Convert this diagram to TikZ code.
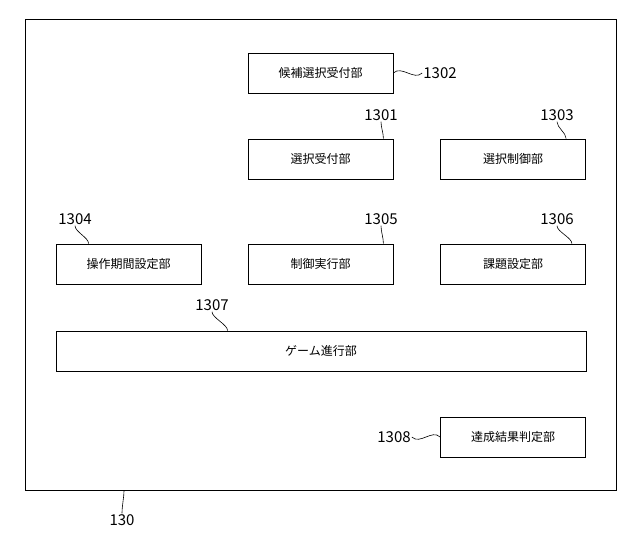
\documentclass[tikz,border=0pt]{standalone}
\usepackage{fontspec}
\setmainfont{Noto Sans CJK JP}
\begin{document}
\begin{tikzpicture}[x=1pt,y=-1pt,
   unit/.style={draw,line width=0.8pt,minimum width=145pt,minimum height=40pt,inner sep=0pt,font=\fontsize{12}{12}\selectfont},
   num/.style={font=\fontsize{15}{15}\selectfont,inner sep=1pt},
   lead/.style={line width=0.6pt}]
   \useasboundingbox (0,0) rectangle (640,547);
   \draw[line width=1pt] (25,19) rectangle (616,490);
   \node[unit] (cand) at (320.5,73) {候補選択受付部};
   \node[unit] (recv) at (320.5,159) {選択受付部};
   \node[unit] (ctrl) at (513,159) {選択制御部};
   \node[unit] (oper) at (128.5,264) {操作期間設定部};
   \node[unit] (exec) at (320.5,264) {制御実行部};
   \node[unit] (task) at (513,264) {課題設定部};
   \node[unit,minimum width=530pt] (game) at (321,351) {ゲーム進行部};
   \node[unit] (judge) at (513,437) {達成結果判定部};
   \node[num] (n1302) at (440,73) {1302};
   \node[num] (n1301) at (381,115) {1301};
   \node[num] (n1303) at (557,115) {1303};
   \node[num] (n1304) at (75,219) {1304};
   \node[num] (n1305) at (381,219) {1305};
   \node[num] (n1306) at (557,219) {1306};
   \node[num] (n1307) at (212,305) {1307};
   \node[num] (n1308) at (394,437) {1308};
   \node[num] (n130) at (122,520) {130};
   \coordinate (c130) at (124,490);
   \draw[lead] (cand.east) .. controls +(8,-8) and +(-8,8) .. (n1302.west);
   \draw[lead] (judge.west) .. controls +(-8,-8) and +(8,8) .. (n1308.east);
   \draw[lead] (n1301.south) .. controls +(0,6) and +(0,-6) .. ([xshift=-10pt]recv.north east);
   \draw[lead] (n1303.south) .. controls +(0,6) and +(0,-6) .. ([xshift=126pt]ctrl.north west);
   \draw[lead] (n1305.south) .. controls +(0,6) and +(0,-6) .. ([xshift=-10pt]exec.north east);
   \draw[lead] (n1306.south) .. controls +(0,6) and +(0,-6) .. ([xshift=-14pt]task.north east);
   \draw[lead] (n1304.south) .. controls +(0,6) and +(0,-6) .. ([xshift=33pt]oper.north west);
   \draw[lead] (n1307.south) .. controls +(0,6) and +(0,-6) .. ([xshift=172pt]game.north west);
   \draw[lead] (c130) .. controls +(0,8) and +(0,-8) .. (n130.north);
\end{tikzpicture}
\end{document}
